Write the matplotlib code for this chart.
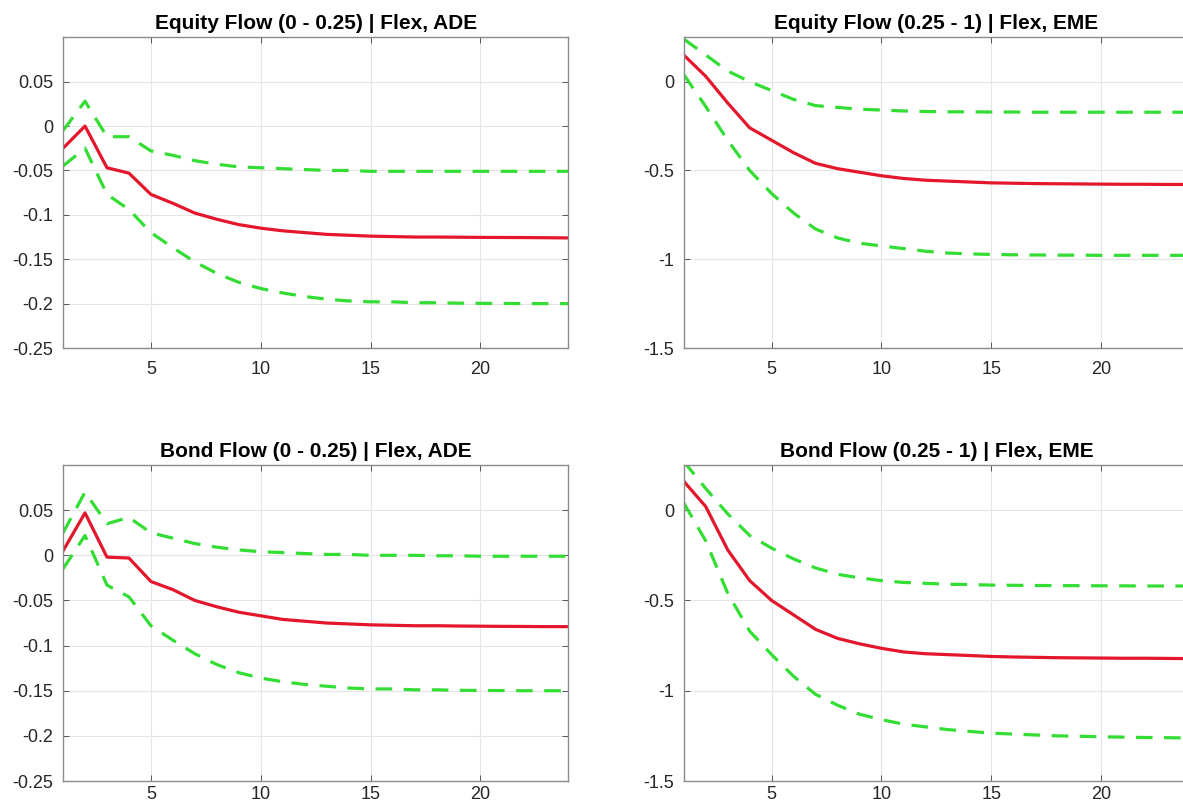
import matplotlib
matplotlib.use("Agg")
import matplotlib.pyplot as plt

plt.rcParams['font.family'] = ['Liberation Sans', 'DejaVu Sans']

# horizon (periods)
periods = list(range(1, 25))

# Equity Flow (0 - 0.25) | Flex, ADE
eq_ade_mid = [-0.025, 0.0, -0.047, -0.053, -0.077, -0.087, -0.098, -0.105, -0.111, -0.115,
              -0.118, -0.120, -0.122, -0.123, -0.124, -0.1245, -0.125, -0.125, -0.1252, -0.1254,
              -0.1255, -0.1256, -0.1258, -0.126]
eq_ade_hi = [-0.005, 0.028, -0.012, -0.012, -0.028, -0.033, -0.039, -0.043, -0.046, -0.047,
             -0.048, -0.049, -0.050, -0.050, -0.051, -0.051, -0.051, -0.051, -0.051, -0.051,
             -0.051, -0.051, -0.051, -0.051]
eq_ade_lo = [-0.045, -0.025, -0.077, -0.094, -0.120, -0.137, -0.153, -0.166, -0.176, -0.183,
             -0.188, -0.192, -0.195, -0.197, -0.198, -0.198, -0.199, -0.199, -0.1995, -0.1997,
             -0.1998, -0.2, -0.2, -0.2]

# Equity Flow (0.25 - 1) | Flex, EME
eq_eme_mid = [0.15, 0.03, -0.12, -0.26, -0.33, -0.40, -0.46, -0.49, -0.51, -0.53,
              -0.545, -0.555, -0.56, -0.565, -0.57, -0.572, -0.574, -0.575, -0.576, -0.577,
              -0.578, -0.578, -0.579, -0.579]
eq_eme_hi = [0.24, 0.15, 0.06, 0.0, -0.05, -0.10, -0.135, -0.145, -0.155, -0.16,
             -0.165, -0.168, -0.17, -0.17, -0.171, -0.171, -0.172, -0.172, -0.172, -0.172,
             -0.172, -0.172, -0.172, -0.172]
eq_eme_lo = [0.04, -0.14, -0.33, -0.50, -0.63, -0.74, -0.83, -0.88, -0.91, -0.925,
             -0.94, -0.955, -0.965, -0.97, -0.973, -0.975, -0.976, -0.977, -0.977, -0.978,
             -0.978, -0.978, -0.978, -0.978]

# Bond Flow (0 - 0.25) | Flex, ADE
bd_ade_mid = [0.005, 0.047, -0.002, -0.003, -0.029, -0.038, -0.050, -0.057, -0.063, -0.067,
              -0.071, -0.073, -0.075, -0.076, -0.077, -0.0775, -0.078, -0.078, -0.0783, -0.0785,
              -0.0787, -0.0788, -0.079, -0.079]
bd_ade_hi = [0.025, 0.070, 0.035, 0.042, 0.025, 0.019, 0.013, 0.009, 0.006, 0.004,
             0.003, 0.002, 0.001, 0.001, 0.0, 0.0, 0.0, -0.0005, -0.0005, -0.001,
             -0.001, -0.001, -0.001, -0.001]
bd_ade_lo = [-0.015, 0.022, -0.033, -0.046, -0.078, -0.094, -0.109, -0.121, -0.130, -0.136,
             -0.140, -0.143, -0.145, -0.147, -0.148, -0.148, -0.149, -0.149, -0.1495, -0.1497,
             -0.1498, -0.15, -0.15, -0.15]

# Bond Flow (0.25 - 1) | Flex, EME
bd_eme_mid = [0.16, 0.02, -0.22, -0.39, -0.50, -0.58, -0.66, -0.71, -0.74, -0.765,
              -0.785, -0.795, -0.80, -0.805, -0.81, -0.813, -0.815, -0.817, -0.818, -0.819,
              -0.82, -0.82, -0.821, -0.822]
bd_eme_hi = [0.27, 0.12, -0.02, -0.14, -0.21, -0.27, -0.32, -0.355, -0.375, -0.39,
             -0.40, -0.405, -0.41, -0.412, -0.415, -0.416, -0.417, -0.418, -0.418, -0.419,
             -0.419, -0.42, -0.42, -0.42]
bd_eme_lo = [0.04, -0.17, -0.46, -0.67, -0.80, -0.92, -1.02, -1.08, -1.13, -1.16,
             -1.185, -1.20, -1.215, -1.225, -1.235, -1.24, -1.245, -1.25, -1.252, -1.255,
             -1.257, -1.259, -1.26, -1.262]

titles = ["Equity Flow (0 - 0.25) | Flex, ADE", "Equity Flow (0.25 - 1) | Flex, EME",
          "Bond Flow (0 - 0.25) | Flex, ADE", "Bond Flow (0.25 - 1) | Flex, EME"]

RED = '#e3162c'
GREEN = '#33dd33'

fig = plt.figure(figsize=(11.83, 8.05), dpi=100)

# axes boxes (figure fractions); right column runs off the canvas as in the source
boxes = [
    [0.0533, 0.5677, 0.427, 0.386],
    [0.578, 0.5677, 0.427, 0.386],
    [0.0533, 0.0298, 0.427, 0.3925],
    [0.578, 0.0298, 0.427, 0.3925],
]
panels = [
    (eq_ade_mid, eq_ade_hi, eq_ade_lo, (-0.25, 0.1), [-0.25, -0.2, -0.15, -0.1, -0.05, 0, 0.05]),
    (eq_eme_mid, eq_eme_hi, eq_eme_lo, (-1.5, 0.25), [-1.5, -1, -0.5, 0]),
    (bd_ade_mid, bd_ade_hi, bd_ade_lo, (-0.25, 0.1), [-0.25, -0.2, -0.15, -0.1, -0.05, 0, 0.05]),
    (bd_eme_mid, bd_eme_hi, bd_eme_lo, (-1.5, 0.25), [-1.5, -1, -0.5, 0]),
]
# bottom row tick labels sit tight against the canvas edge
xpads = [9, 9, 3.5, 3.5]

for box, (mid, hi, lo, ylim, yticks), title, xpad in zip(boxes, panels, titles, xpads):
    ax = fig.add_axes(box)
    ax.plot(periods, hi, color=GREEN, lw=2.3, dashes=(5.2, 3.6))
    ax.plot(periods, lo, color=GREEN, lw=2.3, dashes=(5.2, 3.6))
    ax.plot(periods, mid, color=RED, lw=2.3)
    ax.set_xlim(1, 24)
    ax.set_ylim(*ylim)
    ax.set_xticks([5, 10, 15, 20])
    ax.set_yticks(yticks)
    ax.set_yticklabels([f"{t:g}" for t in yticks])
    ax.grid(True, color='#e4e4e4', lw=0.8)
    ax.set_axisbelow(True)
    ax.tick_params(direction='in', top=True, right=True, length=4, width=0.7,
                   colors='#555555', labelcolor='#262626', labelsize=13)
    ax.tick_params(axis='x', pad=xpad)
    ax.tick_params(axis='y', pad=7)
    for sp in ax.spines.values():
        sp.set_color('#8a8a8a')
        sp.set_linewidth(1.0)
    ax.set_title(title, fontsize=15, fontweight='bold', pad=6)

fig.savefig("out.png", dpi=100)
